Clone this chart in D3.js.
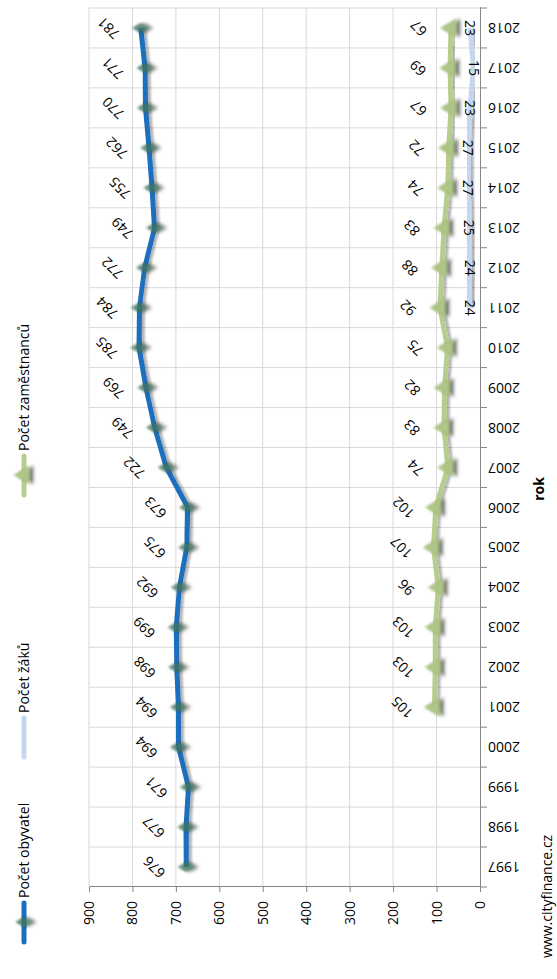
<!DOCTYPE html>
<html>
<head>
<meta charset="utf-8">
<title>Počet obyvatel</title>
<style>
body { margin: 0; background: #fff; }
text { font-family: "Open Sans", sans-serif; fill: #000; }
.grid line { stroke: #d9d9d9; stroke-width: 1; }
.axis path, .axis line { stroke: #868686; stroke-width: 1; }
.axis text { font-size: 14px; }
.lbl { font-size: 14px; }
</style>
</head>
<body>
<div id="chart"></div>
<script src="https://d3js.org/d3.v7.min.js"></script>
<script>

// data
var years = [1997, 1998, 1999, 2000, 2001, 2002, 2003, 2004, 2005, 2006, 2007,
             2008, 2009, 2010, 2011, 2012, 2013, 2014, 2015, 2016, 2017, 2018];
var obyvatel = [676, 677, 671, 694, 694, 698, 699, 692, 675, 673, 722,
                749, 769, 785, 784, 772, 749, 755, 762, 770, 771, 781];

var zakuYears = [2011, 2012, 2013, 2014, 2015, 2016, 2017, 2018];
var zaku = [24, 24, 25, 27, 27, 23, 15, 23];

var zamYears = [2001, 2002, 2003, 2004, 2005, 2006, 2007, 2008, 2009,
                2010, 2011, 2012, 2013, 2014, 2015, 2016, 2017, 2018];
var zamestnanci = [105, 103, 103, 96, 107, 102, 74, 83, 82,
                   75, 92, 88, 83, 74, 72, 67, 69, 67];

var valueTicks = [0, 100, 200, 300, 400, 500, 600, 700, 800, 900];
var legendNames = ["Počet obyvatel", "Počet žáků", "Počet zaměstnanců"];

var colBlue = "#1c6ebe", colLight = "#c4d7ee", colGreen = "#b7cd8e";

var svg = d3.select("#chart").append("svg")
    .attr("width", 557)
    .attr("height", 979);

var defs = svg.append("defs");
var f1 = defs.append("filter").attr("id", "lineShadow")
    .attr("x", "-20%").attr("y", "-20%").attr("width", "140%").attr("height", "140%");
f1.append("feDropShadow").attr("dx", 0).attr("dy", 3).attr("stdDeviation", 1.2)
    .attr("flood-color", "#000").attr("flood-opacity", 0.3);
var f2 = defs.append("filter").attr("id", "markShadow")
    .attr("x", "-80%").attr("y", "-80%").attr("width", "260%").attr("height", "260%");
f2.append("feGaussianBlur").attr("in", "SourceGraphic").attr("stdDeviation", 0.8).attr("result", "b");
f2.append("feDropShadow").attr("in", "b").attr("dx", 0).attr("dy", 4).attr("stdDeviation", 1.5)
    .attr("flood-color", "#333").attr("flood-opacity", 0.7);

// the whole chart is drawn landscape and turned a quarter to the left
var g = svg.append("g")
    .attr("transform", "translate(0,979) rotate(-90)");

var x = d3.scaleBand().domain(years).range([92, 971]);
var y = d3.scaleLinear().domain([0, 900]).range([480, 89]);
function cx(d) { return x(d) + x.bandwidth() / 2; }

var bounds = years.map(function(d) { return x(d); }).concat([971]);

// gridlines
g.append("g").attr("class", "grid")
  .selectAll("line").data(valueTicks.slice(1))
  .enter().append("line")
    .attr("x1", 92).attr("x2", 971)
    .attr("y1", function(d) { return y(d); })
    .attr("y2", function(d) { return y(d); });

g.append("g").attr("class", "grid")
  .selectAll("line").data(bounds.slice(1))
  .enter().append("line")
    .attr("x1", function(d) { return d; }).attr("x2", function(d) { return d; })
    .attr("y1", 89).attr("y2", 480);

// value axis
g.append("g")
    .attr("class", "axis")
    .attr("transform", "translate(92,0)")
    .call(d3.axisLeft(y).tickValues(valueTicks).tickSize(5).tickSizeOuter(0).tickPadding(9));

// year axis
var xAxis = g.append("g")
    .attr("class", "axis")
    .attr("transform", "translate(0,480)")
    .call(d3.axisBottom(x).tickSize(0).tickSizeOuter(0));
xAxis.selectAll("text")
    .attr("transform", "rotate(-90)")
    .attr("x", -8).attr("y", 0).attr("dy", "0.35em")
    .style("text-anchor", "end");

g.append("g").attr("class", "axis")
  .selectAll("line").data(bounds)
  .enter().append("line")
    .attr("x1", function(d) { return d; }).attr("x2", function(d) { return d; })
    .attr("y1", 480).attr("y2", 487);

g.append("text")
    .attr("x", 490).attr("y", 544)
    .attr("text-anchor", "middle")
    .style("font-size", "14px").style("font-weight", "bold")
    .text("rok");

// series
var line = d3.line()
    .x(function(d) { return cx(d.year); })
    .y(function(d) { return y(d.v); });

function pairs(ys, vs) {
  return ys.map(function(d, i) { return {year: d, v: vs[i]}; });
}
var sOby = pairs(years, obyvatel);
var sZak = pairs(zakuYears, zaku);
var sZam = pairs(zamYears, zamestnanci);

g.append("path").datum(sZam)
    .attr("d", line).attr("fill", "none")
    .attr("stroke", colGreen).attr("stroke-width", 5)
    .attr("filter", "url(#lineShadow)");

g.selectAll(".tri").data(sZam)
  .enter().append("path")
    .attr("class", "tri")
    .attr("d", d3.symbol(d3.symbolTriangle, 150))
    .attr("transform", function(d) { return "translate(" + cx(d.year) + "," + y(d.v) + ")"; })
    .attr("fill", "#adc585")
    .attr("filter", "url(#markShadow)");

g.append("path").datum(sZak)
    .attr("d", line).attr("fill", "none")
    .attr("stroke", colLight).attr("stroke-width", 5)
    .attr("filter", "url(#lineShadow)");

g.append("path").datum(sOby)
    .attr("d", line).attr("fill", "none")
    .attr("stroke", colBlue).attr("stroke-width", 5)
    .attr("filter", "url(#lineShadow)");

g.selectAll(".dia").data(sOby)
  .enter().append("path")
    .attr("class", "dia")
    .attr("d", d3.symbol(d3.symbolDiamond, 90))
    .attr("transform", function(d) { return "translate(" + cx(d.year) + "," + y(d.v) + ")"; })
    .attr("fill", "#3f745f")
    .attr("opacity", 0.8)
    .attr("filter", "url(#markShadow)");

// data labels
g.selectAll(".lblOby").data(sOby)
  .enter().append("text")
    .attr("class", "lbl")
    .attr("text-anchor", "middle").attr("dy", "0.35em")
    .attr("transform", function(d) { return "translate(" + cx(d.year) + "," + (y(d.v) - 32) + ") rotate(-45)"; })
    .text(function(d) { return d.v; });

g.selectAll(".lblZam").data(sZam)
  .enter().append("text")
    .attr("class", "lbl")
    .attr("text-anchor", "middle").attr("dy", "0.35em")
    .attr("transform", function(d) { return "translate(" + cx(d.year) + "," + (y(d.v) - 32) + ") rotate(-45)"; })
    .text(function(d) { return d.v; });

g.selectAll(".lblZak").data(sZak)
  .enter().append("text")
    .attr("class", "lbl")
    .attr("text-anchor", "middle").attr("dy", "0.35em")
    .attr("transform", function(d) { return "translate(" + cx(d.year) + "," + y(d.v) + ") rotate(180)"; })
    .text(function(d) { return d.v; });

// legend
var legX = [37, 222, 484];
var legColors = [colBlue, colLight, colGreen];
var leg = g.selectAll(".leg").data(legendNames)
  .enter().append("g")
    .attr("transform", function(d, i) { return "translate(" + legX[i] + ",24)"; });
leg.append("line")
    .attr("x1", 0).attr("x2", 39)
    .attr("stroke", function(d, i) { return legColors[i]; })
    .attr("stroke-width", 5).attr("stroke-linecap", "round");
leg.filter(function(d, i) { return i == 0; }).append("path")
    .attr("d", d3.symbol(d3.symbolDiamond, 90))
    .attr("transform", "translate(20,0)")
    .attr("fill", "#3f745f").attr("opacity", 0.8)
    .attr("filter", "url(#markShadow)");
leg.filter(function(d, i) { return i == 2; }).append("path")
    .attr("d", d3.symbol(d3.symbolTriangle, 150))
    .attr("transform", "translate(20,0)")
    .attr("fill", "#adc585")
    .attr("filter", "url(#markShadow)");
leg.append("text")
    .attr("x", 44).attr("dy", "0.35em")
    .style("font-size", "14px")
    .text(function(d) { return d; });

g.append("text")
    .attr("x", 21).attr("y", 552)
    .style("font-size", "14px")
    .text("www.cityfinance.cz");

</script>
</body>
</html>
